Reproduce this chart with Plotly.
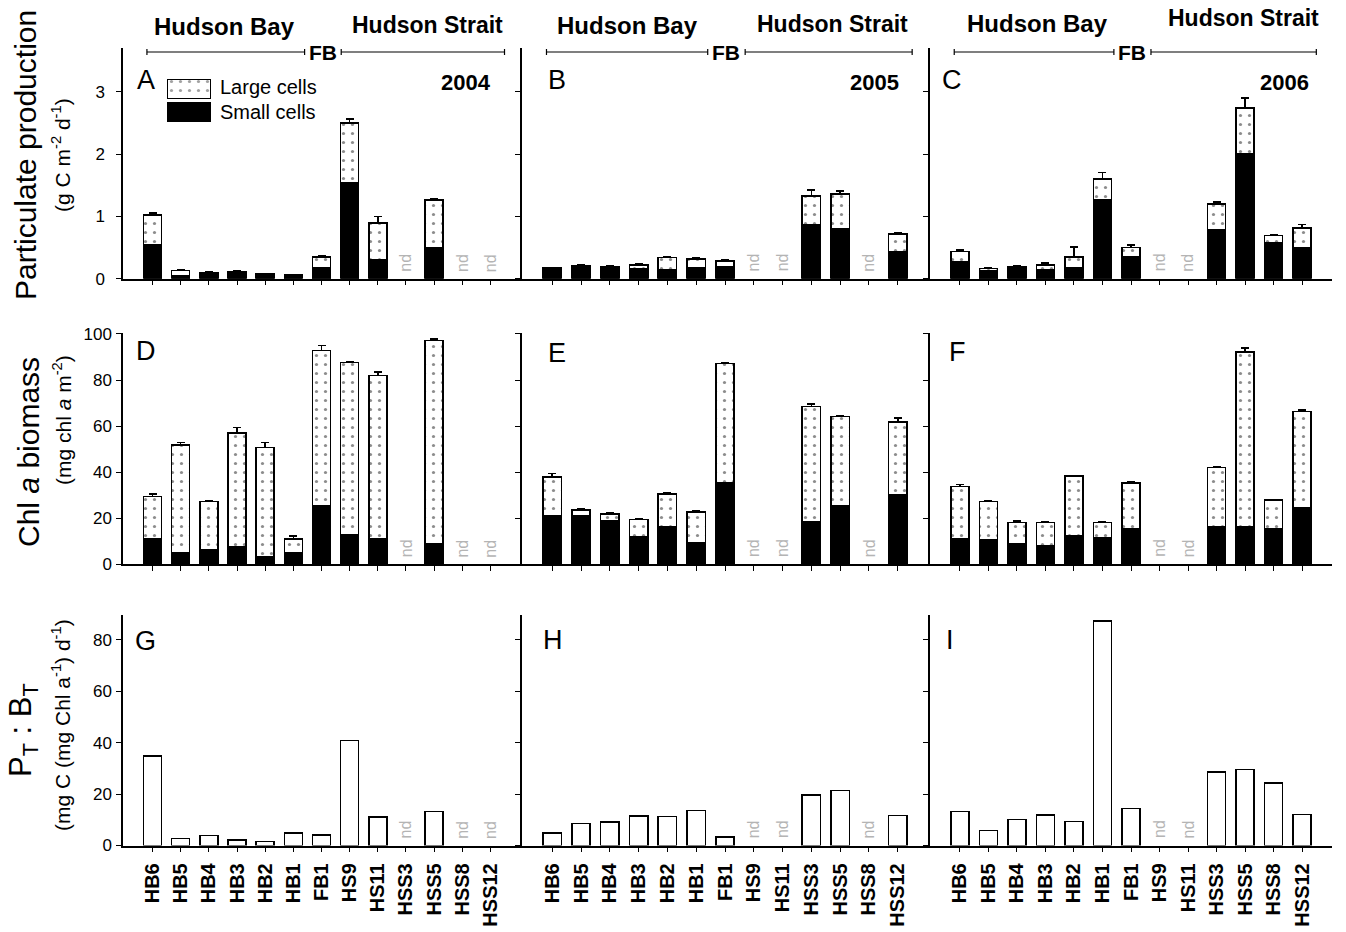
import plotly.graph_objects as go

# Stations along the transect, Hudson Bay -> Foxe Basin -> Hudson Strait
stations = ["HB6", "HB5", "HB4", "HB3", "HB2", "HB1", "FB1",
            "HS9", "HS11", "HSS3", "HSS5", "HSS8", "HSS12"]
years = ["2004", "2005", "2006"]

# Particulate production (g C m-2 d-1); None = no data
prod_small_2004 = [0.54, 0.05, 0.08, 0.09, 0.05, 0.055, 0.17, 1.54, 0.31, None, 0.49, None, None]
prod_large_2004 = [0.48, 0.08, 0.02, 0.02, 0.025, 0.005, 0.18, 0.96, 0.58, None, 0.77, None, None]
prod_err_2004 = [0.03, 0.01, 0.005, 0.01, 0.005, 0.005, 0.02, 0.06, 0.11, None, 0.03, None, None]

prod_small_2005 = [0.15, 0.19, 0.18, 0.16, 0.15, 0.18, 0.19, None, None, 0.87, 0.80, None, 0.44]
prod_large_2005 = [0.02, 0.02, 0.01, 0.06, 0.19, 0.14, 0.09, None, None, 0.46, 0.56, None, 0.28]
prod_err_2005 = [0.01, 0.01, 0.01, 0.02, 0.005, 0.02, 0.03, None, None, 0.09, 0.05, None, 0.02]

prod_small_2006 = [0.27, 0.12, 0.17, 0.15, 0.18, 1.27, 0.36, None, None, 0.79, 2.01, 0.57, 0.49]
prod_large_2006 = [0.17, 0.04, 0.02, 0.07, 0.17, 0.33, 0.14, None, None, 0.41, 0.73, 0.12, 0.32]
prod_err_2006 = [0.02, 0.01, 0.01, 0.03, 0.16, 0.10, 0.04, None, None, 0.03, 0.16, 0.02, 0.06]

# Chl a biomass (mg chl a m-2)
chl_small_2004 = [11.0, 5.0, 6.5, 7.7, 3.2, 4.8, 25.3, 12.7, 11.0, None, 8.8, None, None]
chl_large_2004 = [18.4, 46.7, 20.7, 49.2, 47.4, 6.2, 67.5, 74.8, 70.9, None, 88.3, None, None]
chl_err_2004 = [1.1, 1.1, 0.3, 2.4, 2.2, 1.2, 2.1, 0.5, 1.5, None, 0.6, None, None]

chl_small_2005 = [21.0, 21.0, 18.9, 12.0, 16.2, 9.4, 35.2, None, None, 18.4, 25.5, None, 30.4]
chl_large_2005 = [17.0, 2.6, 2.9, 7.5, 14.3, 13.2, 51.9, None, None, 50.0, 38.6, None, 31.4]
chl_err_2005 = [1.5, 0.7, 0.5, 0.3, 0.5, 0.7, 0.3, None, None, 1.2, 0.4, None, 1.6]

chl_small_2006 = [11.0, 10.7, 8.8, 8.2, 12.3, 11.6, 15.5, None, None, 16.1, 16.3, 15.3, 24.6]
chl_large_2006 = [22.7, 16.5, 9.3, 10.0, 26.0, 6.6, 19.7, None, None, 26.0, 75.9, 12.6, 41.7]
chl_err_2006 = [0.9, 0.3, 0.6, 0.3, 0.3, 0.3, 0.6, None, None, 0.4, 1.6, 0.3, 0.7]

# PT:BT ratio (mg C (mg Chl a)-1 d-1)
ratio_2004 = [34.8, 2.7, 3.8, 2.1, 1.6, 4.9, 4.0, 40.8, 11.0, None, 13.2, None, None]
ratio_2005 = [4.9, 8.5, 9.1, 11.5, 11.3, 13.7, 3.4, None, None, 19.6, 21.4, None, 11.7]
ratio_2006 = [13.3, 5.8, 10.2, 11.9, 9.3, 87.3, 14.3, None, None, 28.6, 29.6, 24.2, 12.1]

panel_letters = ["A", "B", "C", "D", "E", "F", "G", "H", "I"]

W, H = 1346, 932
FONT = "Liberation Sans, Arial, Helvetica, sans-serif"


def px(x):
    return x / W


def py(y):
    return 1 - y / H


x_domains = [(123, 520), (522, 928), (930, 1332)]
y_domains = [(48, 278.7), (333, 564.3), (615, 845.5)]
y_ranges = [[0, 3.7], [0, 100.4], [0, 89.6]]
y_ticks = [[0, 1, 2, 3], [0, 20, 40, 60, 80, 100], [0, 20, 40, 60, 80]]
x_range = [-1.05, 13.05]
BAR_W = 0.64

large_pattern = dict(shape=".", fgcolor="#1a1a1a", bgcolor="white",
                     size=9, solidity=0.1)

stacked = [
    (prod_small_2004, prod_large_2004, prod_err_2004),
    (prod_small_2005, prod_large_2005, prod_err_2005),
    (prod_small_2006, prod_large_2006, prod_err_2006),
    (chl_small_2004, chl_large_2004, chl_err_2004),
    (chl_small_2005, chl_large_2005, chl_err_2005),
    (chl_small_2006, chl_large_2006, chl_err_2006),
]
ratios = [ratio_2004, ratio_2005, ratio_2006]

fig = go.Figure()


def ax_names(k):
    return ("x" if k == 1 else f"x{k}"), ("y" if k == 1 else f"y{k}")


# Stacked bars: small cells (solid) under large cells (pattern)
for i, (small, large, err) in enumerate(stacked):
    k = i + 1
    xa, ya = ax_names(k)
    fig.add_trace(go.Bar(
        x=stations, y=small, xaxis=xa, yaxis=ya, width=BAR_W,
        marker=dict(color="black", line=dict(color="black", width=1.5)),
        showlegend=False, name="Small cells"))
    fig.add_trace(go.Bar(
        x=stations, y=large, xaxis=xa, yaxis=ya, width=BAR_W,
        marker=dict(color="white", pattern=large_pattern,
                    line=dict(color="black", width=1.5)),
        error_y=dict(type="data", array=err, arrayminus=[0] * len(err),
                     symmetric=False, color="black", thickness=1.5, width=4),
        showlegend=False, name="Large cells"))

# PT:BT open bars
for i, vals in enumerate(ratios):
    k = 7 + i
    xa, ya = ax_names(k)
    fig.add_trace(go.Bar(
        x=stations, y=vals, xaxis=xa, yaxis=ya, width=BAR_W,
        marker=dict(color="white", line=dict(color="black", width=1.5)),
        showlegend=False, name="PT:BT"))

# Legend swatches drawn as bars on a small hidden axis
fig.add_trace(go.Bar(
    x=[1, 1], y=[1, 0], orientation="h", width=0.8,
    xaxis="x10", yaxis="y10", showlegend=False, hoverinfo="skip",
    marker=dict(color=["white", "black"],
                pattern=dict(shape=[".", ""], fgcolor="#1a1a1a", bgcolor="white",
                             size=9, solidity=0.1),
                line=dict(color="black", width=1.2))))

layout = dict(
    width=W, height=H,
    margin=dict(l=0, r=0, t=0, b=0, autoexpand=False),
    paper_bgcolor="white", plot_bgcolor="white",
    barmode="stack",
    font=dict(family=FONT, color="black", size=17),
    showlegend=False,
)

for r in range(3):
    for c in range(3):
        k = r * 3 + c + 1
        xkey = "xaxis" if k == 1 else f"xaxis{k}"
        ykey = "yaxis" if k == 1 else f"yaxis{k}"
        xa, ya = ax_names(k)
        x0, x1 = x_domains[c]
        y0, y1 = y_domains[r]
        layout[xkey] = dict(
            domain=[px(x0), px(x1)], anchor=ya, type="category",
            categoryorder="array", categoryarray=stations, automargin=False,
            range=x_range, showline=True, linecolor="black", linewidth=1.5,
            ticks="outside", ticklen=5, tickwidth=1.2, tickcolor="black",
            showgrid=False, zeroline=False,
            showticklabels=(r == 2), tickangle=-90, ticklabelstandoff=3,
            tickfont=dict(family=FONT, size=20, color="black", weight="bold"),
        )
        layout[ykey] = dict(
            domain=[py(y1), py(y0)], anchor=xa, range=y_ranges[r], automargin=False,
            tickvals=y_ticks[r], showline=True, linecolor="black", linewidth=1.5,
            ticks="outside", ticklen=5, tickwidth=1.2, tickcolor="black",
            showgrid=False, zeroline=False, showticklabels=(c == 0),
            tickfont=dict(family=FONT, size=17, color="black"),
            ticklabelstandoff=(8 if r == 0 else 1),
        )

layout["xaxis10"] = dict(domain=[px(167), px(211)], anchor="y10", range=[0, 1],
                         visible=False, fixedrange=True, automargin=False)
layout["yaxis10"] = dict(domain=[py(124), py(77)], anchor="x10", range=[-0.5, 1.5],
                         visible=False, fixedrange=True, automargin=False)

annotations = []
shapes = []


def ann(x, y, text, size, bold=False, angle=0, xanchor="center", yanchor="middle",
        color="black"):
    annotations.append(dict(
        x=px(x), y=py(y), xref="paper", yref="paper", text=text,
        showarrow=False, textangle=angle, xanchor=xanchor, yanchor=yanchor,
        font=dict(family=FONT, size=size, color=color,
                  weight=("bold" if bold else "normal"))))


# Panel letters
letter_pos = [(146, 80), (557, 80), (952, 80),
              (146, 351), (557, 353), (957, 352),
              (145, 641), (553, 640), (950, 640)]
for letter, (x, y) in zip(panel_letters, letter_pos):
    ann(x, y, letter, 27)

# Year labels
for yr, x in zip(years, [466, 874, 1284]):
    ann(x, 82, yr, 22, bold=True)

# Region headers and brackets above the top row
bay_pos = [(224, 27), (627, 25), (1037, 23)]
strait_pos = [(427, 25), (832, 24), (1243, 18)]
for c in range(3):
    bx, by = bay_pos[c]
    sx, sy = strait_pos[c]
    ann(bx, by, "Hudson Bay", 24, bold=True)
    ann(sx, sy, "Hudson Strait", 23, bold=True)
    xa = "x" if c == 0 else f"x{c + 1}"
    annotations.append(dict(x=6.05, y=py(52), xref=xa, yref="paper", text="FB",
                            showarrow=False, xanchor="center", yanchor="middle",
                            font=dict(family=FONT, size=21, color="black", weight="bold")))
    for (a, b) in [(-0.2, 5.4), (6.7, 12.5)]:
        shapes.append(dict(type="line", xref=xa, yref="paper", x0=a, x1=b,
                           y0=py(52), y1=py(52), line=dict(color="black", width=1.2)))
        for e in (a, b):
            shapes.append(dict(type="line", xref=xa, yref="paper", x0=e, x1=e,
                               y0=py(49), y1=py(55), line=dict(color="black", width=1.2)))

# Legend text
ann(218, 87, "Large cells", 20, xanchor="left")
ann(218, 112, "Small cells", 20, xanchor="left")

# "nd" markers for stations without data
all_series = [s[0] for s in stacked] + ratios
for i, series in enumerate(all_series):
    k = i + 1
    xa, ya = ax_names(k)
    for st, v in zip(stations, series):
        if v is None:
            annotations.append(dict(
                x=st, y=0, xref=xa, yref=ya, text="nd", showarrow=False,
                textangle=-90, xanchor="center", yanchor="bottom", yshift=5,
                font=dict(family=FONT, size=16, color="#b4b4b4")))

# Axis titles
ann(26, 155, "Particulate production", 30, angle=-90)
ann(61, 155, "(g C m<sup>-2</sup> d<sup>-1</sup>)", 21, angle=-90)
ann(28, 452, "Chl <i>a</i> biomass", 30, angle=-90)
ann(62, 420, "(mg chl <i>a</i> m<sup>-2</sup>)", 21, angle=-90)
ann(23, 730, "P<sub>T</sub> : B<sub>T</sub>", 31, angle=-90)
ann(61, 725, "(mg C (mg Chl a<sup>-1</sup>) d<sup>-1</sup>)", 21, angle=-90)

layout["annotations"] = annotations
layout["shapes"] = shapes
fig.update_layout(**layout)

fig.write_html("out.html")
